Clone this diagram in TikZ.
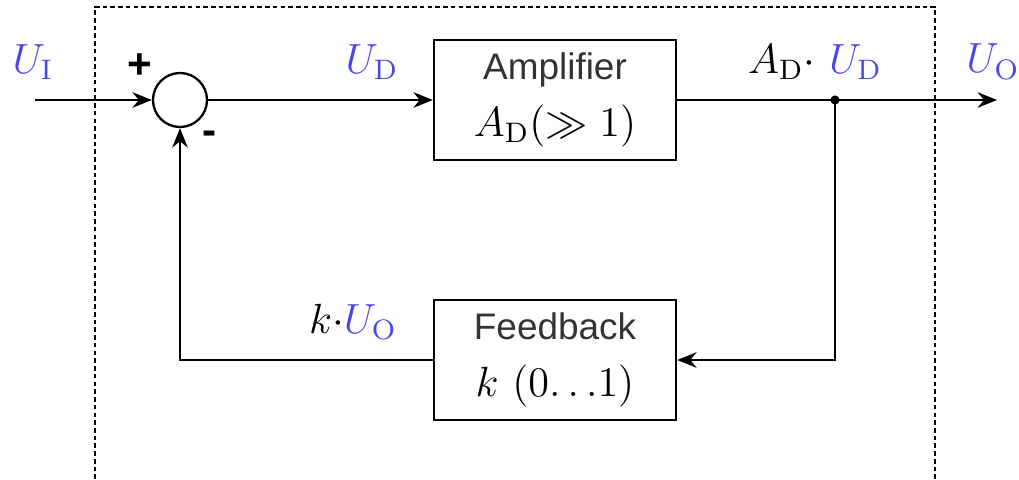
\documentclass[tikz,border=0pt]{standalone}
\usepackage{amsmath}
\usepackage{amssymb}
\usepackage{fontspec}
\setsansfont{Liberation Sans}
\usetikzlibrary{arrows.meta}
\definecolor{sigblue}{RGB}{70,70,235}
\definecolor{txtgray}{RGB}{51,51,51}

\begin{document}
\begin{tikzpicture}[x=0.01cm,y=-0.01cm,
    >={Stealth[length=5.5pt,width=4.4pt]},
    line width=0.65pt,
    bloc/.style={draw,rectangle,minimum width=2.42cm,minimum height=1.2cm,
      align=center,font=\fontsize{10.5}{16}\selectfont},
    lbl/.style={font=\fontsize{12}{14}\selectfont},
    sig/.style={lbl,text=sigblue},
    sgn/.style={font=\fontsize{12}{14}\selectfont\sffamily\bfseries}]
  \useasboundingbox (0,0) rectangle (1019,479);

  % Cadre en pointillés
  \draw[line width=0.5pt,dash pattern=on 1.3pt off 0.9pt]
    (95,479) |- (935,7) -- (935,479);

  % Blocs
  \node[draw,circle,minimum size=0.54cm,inner sep=0pt] (Sum) at (180,100) {};
  \node[bloc] (Ampli) at (555,100)
    {{\sffamily\color{txtgray}Amplifier}\\ {\fontsize{12}{14}\selectfont$A_{\mathrm{D}}(\gg 1)$}};
  \node[bloc] (Fb) at (555,360)
    {{\sffamily\color{txtgray}Feedback}\\ {\fontsize{12}{14}\selectfont$k\ (0{\ldots}1)$}};

  % Points d'entrée, de sortie et de dérivation
  \coordinate (In) at (35,100);
  \coordinate (Out) at (997,100);
  \coordinate (Br) at (835,100);
  \fill (Br) circle[radius=1.3pt];

  % Liaisons
  \draw[->] (In) -- (Sum);
  \draw[->] (Sum) -- (Ampli);
  \draw[->] (Ampli) -- (Out);
  \draw[->] (Br) |- (Fb);
  \draw[->] (Fb) -| (Sum);

  % Étiquettes
  \node[sig] (LUi) at (33,62) {$U_{\mathrm{I}}$};
  \node[sgn] (Lplus) at (140,66) {+};
  \node[sgn] (Lminus) at (210,138) {-};
  \node[sig] (LUd) at (372,62) {$U_{\mathrm{D}}$};
  \node[lbl] (LAU) at (815,62) {$A_{\mathrm{D}}\cdot$ \textcolor{sigblue}{$U_{\mathrm{D}}$}};
  \node[sig] (LUo) at (993,62) {$U_{\mathrm{O}}$};
  \node[lbl] (LkU) at (353,322) {$k\cdot$\textcolor{sigblue}{$U_{\mathrm{O}}$}};
\end{tikzpicture}
\end{document}
